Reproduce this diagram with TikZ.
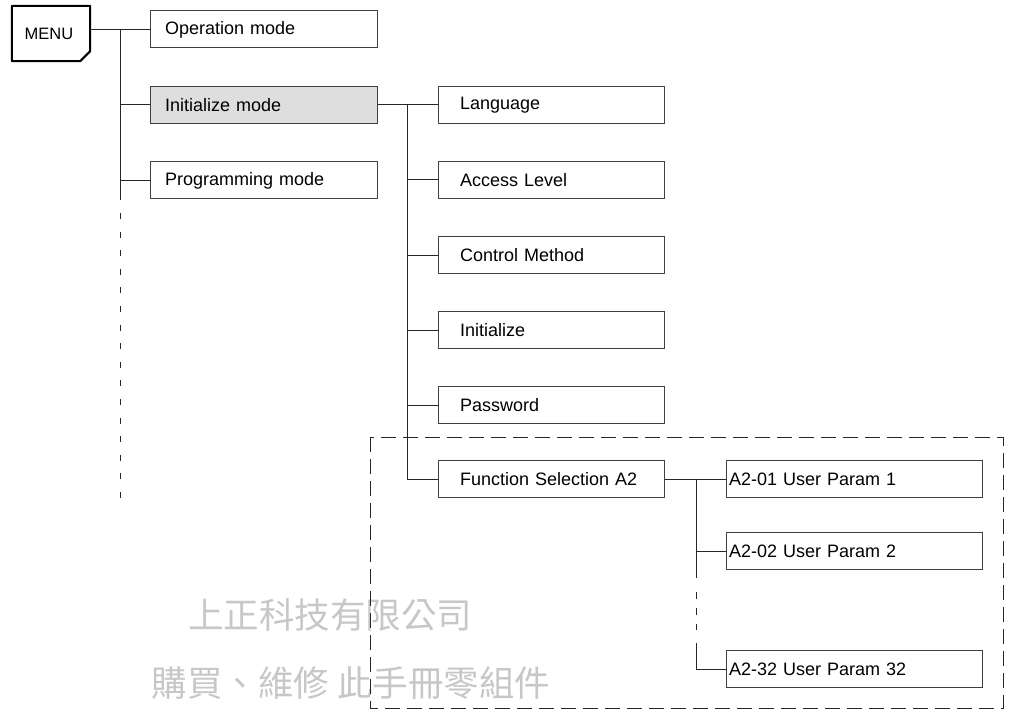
\documentclass[tikz,border=0pt]{standalone}
\usepackage{fontspec}
\setmainfont{Liberation Sans}
\newfontfamily\cjkfont{Noto Sans CJK TC}
\begin{document}
\begin{tikzpicture}[x=1pt,y=-1pt,
    modebox/.style={draw=black!75,line width=1pt,minimum height=37pt,inner xsep=15pt,inner ysep=0pt,text width=197pt,align=left,font=\fontsize{18}{21}\selectfont},
    itembox/.style={modebox,inner xsep=22pt,text width=182pt},
    parambox/.style={modebox,inner xsep=3pt,text width=250pt},
    link/.style={black!85,line width=1pt},
    gap/.style={link,dash pattern=on 6pt off 12.6pt},
    frame/.style={black!85,line width=1pt,dash pattern=on 15pt off 7pt}]
            \useasboundingbox (0,0) rectangle (1011,711);

            % watermark, under everything else
            \node[font=\cjkfont\fontsize{35.5}{38}\selectfont,text=black!22] (wm1) at (330,615) {上正科技有限公司};
            \node[font=\cjkfont\fontsize{35.5}{38}\selectfont,text=black!22] (wm2) at (351,683) {購買、維修 此手冊零組件};

            \node[minimum width=78pt,minimum height=55pt,inner sep=0pt,font=\fontsize{16.5}{18}\selectfont] (menu) at (49,33.5) {MENU};
            \draw[line width=2pt,line join=round] ([xshift=2pt]menu.north west) -- ([xshift=2pt]menu.north east) -- ([xshift=2pt,yshift=10pt]menu.south east) -- ([xshift=-8pt]menu.south east) -- ([xshift=2pt]menu.south west) -- cycle;

            \node[modebox] (op) at (263.5,29.5) {Operation mode};
            \node[modebox,fill=black!13] (init) at (263.5,105) {Initialize mode};
            \node[modebox] (prog) at (263.5,180.5) {Programming mode};

            \node[itembox] (lang) at (551,105) {Language};
            \node[itembox] (acc) at (551,180) {Access Level};
            \node[itembox] (ctrl) at (551,255) {Control Method};
            \node[itembox] (initz) at (551,330) {Initialize};
            \node[itembox] (pwd) at (551,405) {Password};
            \node[itembox] (fsel) at (551,479) {Function Selection A2};

            \node[parambox] (p1) at (854,479) {A2-01 User Param 1};
            \node[parambox] (p2) at (854,551) {A2-02 User Param 2};
            \node[parambox] (p32) at (854,669) {A2-32 User Param 32};

            % first level
            \coordinate (t1) at (120,0);
            \coordinate (t1gap) at (120,200);
            \coordinate (t1dash) at (120,213);
            \coordinate (t1end) at (120,498);
            \draw[link] ([xshift=2pt]menu.east |- op.west) -- (op.west);
            \draw[link] (t1 |- op.west) -- (t1gap);
            \draw[link] (t1 |- init.west) -- (init.west);
            \draw[link] (t1 |- prog.west) -- (prog.west);
            \draw[gap] (t1dash) -- (t1end);

            % second level
            \coordinate (t2) at (407,0);
            \draw[link] (init.east) -- (lang.west);
            \draw[link] (t2 |- lang.west) |- (fsel.west);
            \draw[link] (t2 |- acc.west) -- (acc.west);
            \draw[link] (t2 |- ctrl.west) -- (ctrl.west);
            \draw[link] (t2 |- initz.west) -- (initz.west);
            \draw[link] (t2 |- pwd.west) -- (pwd.west);

            % third level
            \coordinate (t3) at (696,0);
            \coordinate (t3gap) at (696,578);
            \coordinate (t3dash) at (696,592);
            \coordinate (t3stop) at (696,630);
            \coordinate (t3back) at (696,643);
            \draw[link] (fsel.east) -- (p1.west);
            \draw[link] (t3 |- p1.west) -- (t3gap);
            \draw[link] (t3 |- p2.west) -- (p2.west);
            \draw[link,dash pattern=on 7pt off 9pt] (t3dash) -- (t3stop);
            \draw[link] (t3back) |- (p32.west);

            % group of the A2 functions
            \coordinate (fr1) at (370,437);
            \coordinate (fr2) at (1003,708);
            \draw[frame] (fr1) rectangle (fr2);
        \end{tikzpicture}
\end{document}
